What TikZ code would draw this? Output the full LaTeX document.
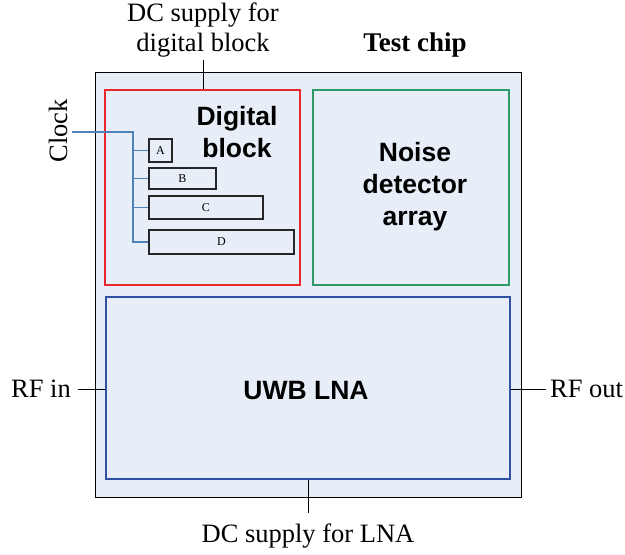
\documentclass[tikz,border=0pt]{standalone}
\usepackage{fontspec}
\setmainfont{Liberation Serif}
\newfontfamily\blockfont{Liberation Sans}
\definecolor{chipfill}{HTML}{E7EEF7}
\definecolor{redbox}{HTML}{E8262B}
\definecolor{greenbox}{HTML}{2E9A68}
\definecolor{bluebox}{HTML}{2F4FA2}
\definecolor{busblue}{HTML}{4F81BD}
\begin{document}
\begin{tikzpicture}[x=1pt,y=-1pt,
  lbl/.style={font=\fontsize{26.5}{30}\selectfont, inner sep=0pt},
  blk/.style={font=\blockfont\bfseries\fontsize{26.5}{32}\selectfont, align=center, inner sep=0pt},
  colbox/.style={draw=#1, line width=2.6pt, fill=chipfill, inner sep=0pt, anchor=center},
  cell/.style={draw=black!85, line width=1.3pt, fill=chipfill, inner sep=0pt, font=\fontsize{12}{14}\selectfont},
  wire/.style={draw=black, line width=1pt},
  bus/.style={draw=busblue, line width=1.2pt}]
\useasboundingbox (0,0) rectangle (625,555);
% chip
\node[draw=black, line width=1pt, fill=chipfill, minimum width=426pt, minimum height=425pt, inner sep=0pt] (chip) at (308,284.5) {};
\node[font=\bfseries\fontsize{27}{30}\selectfont, inner sep=0pt] (title) at (415,45) {Test chip};
% blocks
\node[colbox=redbox, minimum width=195pt, minimum height=195pt] (red) at (202.5,187.5) {};
\node[colbox=greenbox, minimum width=196pt, minimum height=195pt] (green) at (411,187.5) {};
\node[colbox=bluebox, minimum width=404pt, minimum height=182pt] (blue) at (308,388) {};
\node[blk] (dlab) at (237,132) {Digital\\block};
\node[blk] (nlab) at (415,187) {Noise\\detector\\array};
\node[blk] (ulab) at (306,391) {UWB LNA};
% digital cells
\node[cell, minimum width=23pt, minimum height=23pt] (A) at (160.5,150.5) {A};
\node[cell, minimum width=67pt, minimum height=21pt] (B) at (182.5,178.5) {B};
\node[cell, minimum width=114pt, minimum height=23pt] (C) at (206,207.5) {C};
\node[cell, minimum width=145pt, minimum height=24pt] (D) at (221.5,242) {D};
% clock
\node[lbl, rotate=90] (clock) at (58,131) {Clock};
\coordinate (bt) at (133,132);
\draw[bus] (72,132) -- (bt) -- (bt |- D.west) -- (D.west);
\draw[bus] (bt |- A.west) -- (A.west);
\draw[bus] (bt |- B.west) -- (B.west);
\draw[bus] (bt |- C.west) -- (C.west);
% DC supply digital
\node[lbl, align=center] (dcd) at (203,30) {DC supply for\\digital block};
\coordinate (dctop) at (203,60);
\draw[wire] (dctop) -- (red.north -| dctop);
% RF in / out
\node[lbl, anchor=east] (rfin) at (71,389) {RF in};
\draw[wire] (rfin.east) ++(7pt,0) coordinate (rfa) -- (blue.west |- rfa);
\node[lbl, anchor=west] (rfout) at (550,389) {RF out};
\draw[wire] (blue.east |- rfout.west) -- ([xshift=-4pt]rfout.west);
% DC LNA
\node[lbl] (dcl) at (308,536) {DC supply for LNA};
\coordinate (dclb) at (308,513);
\draw[wire] (blue.south) -- (dclb);
\end{tikzpicture}
\end{document}
